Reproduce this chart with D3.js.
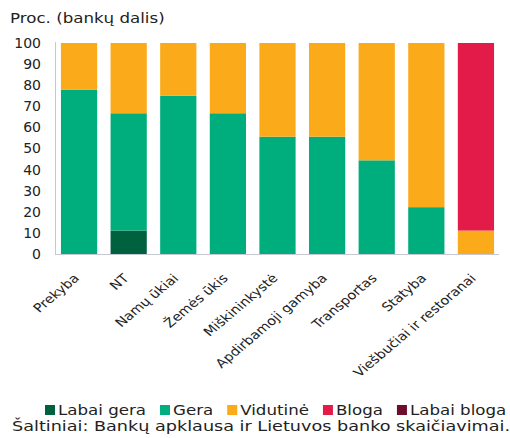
<!DOCTYPE html>
<html><head><meta charset="utf-8">
<script src="https://cdn.jsdelivr.net/npm/d3@7"></script>
<style>body{margin:0;background:#fff}svg{display:block}text{font-family:"DejaVu Sans",Verdana,sans-serif;fill:#222}</style>
</head><body><svg id="c" width="510" height="438"></svg>
<script>
const categories = ["Prekyba","NT","Namų ūkiai","Žemės ūkis","Miškininkystė","Apdirbamoji gamyba","Transportas","Statyba","Viešbučiai ir restoranai"];
const seriesNames = ["Labai gera","Gera","Vidutinė","Bloga","Labai bloga"];
const labaiGera = [0,11.1,0,0,0,0,0,0,0];
const gera      = [77.8,55.6,75,66.7,55.6,55.6,44.4,22.2,0];
const vidutine  = [22.2,33.3,25,33.3,44.4,44.4,55.6,77.8,11.1];
const bloga     = [0,0,0,0,0,0,0,0,88.9];
const labaiBloga= [0,0,0,0,0,0,0,0,0];
const yTicks = [0,10,20,30,40,50,60,70,80,90,100];
const colors = ["#00613f","#00ad7c","#fbaa19","#e31b48","#6b0d2b"];
const SX = 1.19; // horizontal stretch of text in the reference

const svg = d3.select("#c");
const rows = categories.map((c,i)=>({cat:c,"Labai gera":labaiGera[i],"Gera":gera[i],"Vidutinė":vidutine[i],"Bloga":bloga[i],"Labai bloga":labaiBloga[i]}));
const stack = d3.stack().keys(seriesNames)(rows);

const x = d3.scaleBand().domain(categories).range([55,500]).paddingInner(0.27).paddingOuter(0.12);
const y = d3.scaleLinear().domain([0,100]).range([254,43]);

svg.append("g").selectAll("g").data(stack).join("g").attr("fill",(d,i)=>colors[i])
  .selectAll("rect").data(d=>d).join("rect")
  .attr("x",d=>x(d.data.cat)).attr("width",x.bandwidth())
  .attr("y",d=>y(d[1])).attr("height",d=>Math.max(0,y(d[0])-y(d[1])));

svg.append("line").attr("x1",55.5).attr("x2",55.5).attr("y1",42).attr("y2",255).attr("stroke","#c8c8d4");
svg.append("line").attr("x1",55).attr("x2",499).attr("y1",254.5).attr("y2",254.5).attr("stroke","#c8c8d4");

const yAxis = svg.append("g").attr("transform","translate(55,0)")
  .call(d3.axisLeft(y).tickValues(yTicks).tickSize(0).tickPadding(14));
yAxis.select(".domain").remove();
yAxis.selectAll("text").style("font-size","14px").attr("fill","#222").style("font-family","DejaVu Sans, Verdana, sans-serif");

const xAxis = svg.append("g")
  .call(d3.axisBottom(x).tickSize(0).tickPadding(0));
xAxis.select(".domain").remove();
xAxis.selectAll(".tick").attr("transform",d=>`translate(${x(d)+x.bandwidth()/2+1},279)`);
xAxis.selectAll("text").style("font-size","12.2px").attr("fill","#222").style("font-family","DejaVu Sans, Verdana, sans-serif")
  .attr("text-anchor","end").attr("dy",null).attr("y",0)
  .attr("transform",`scale(${SX},1) rotate(-45)`);

function stretchedText(x0,y0,str,size,sx){
  return svg.append("text").attr("transform",`translate(${x0},${y0}) scale(${sx||SX},1)`).style("font-size",size+"px").text(str);
}
stretchedText(10,23,"Proc. (bankų dalis)",14);

// legend
let lx = 45;
seriesNames.forEach((n,i)=>{
  svg.append("rect").attr("x",lx).attr("y",405).attr("width",10).attr("height",10).attr("fill",colors[i]);
  const t = stretchedText(lx+13,415,n,14);
  lx += 13 + t.node().getComputedTextLength()*SX + 14;
});
stretchedText(12,431,"Šaltiniai: Bankų apklausa ir Lietuvos banko skaičiavimai.",14,1.26);
</script></body></html>
